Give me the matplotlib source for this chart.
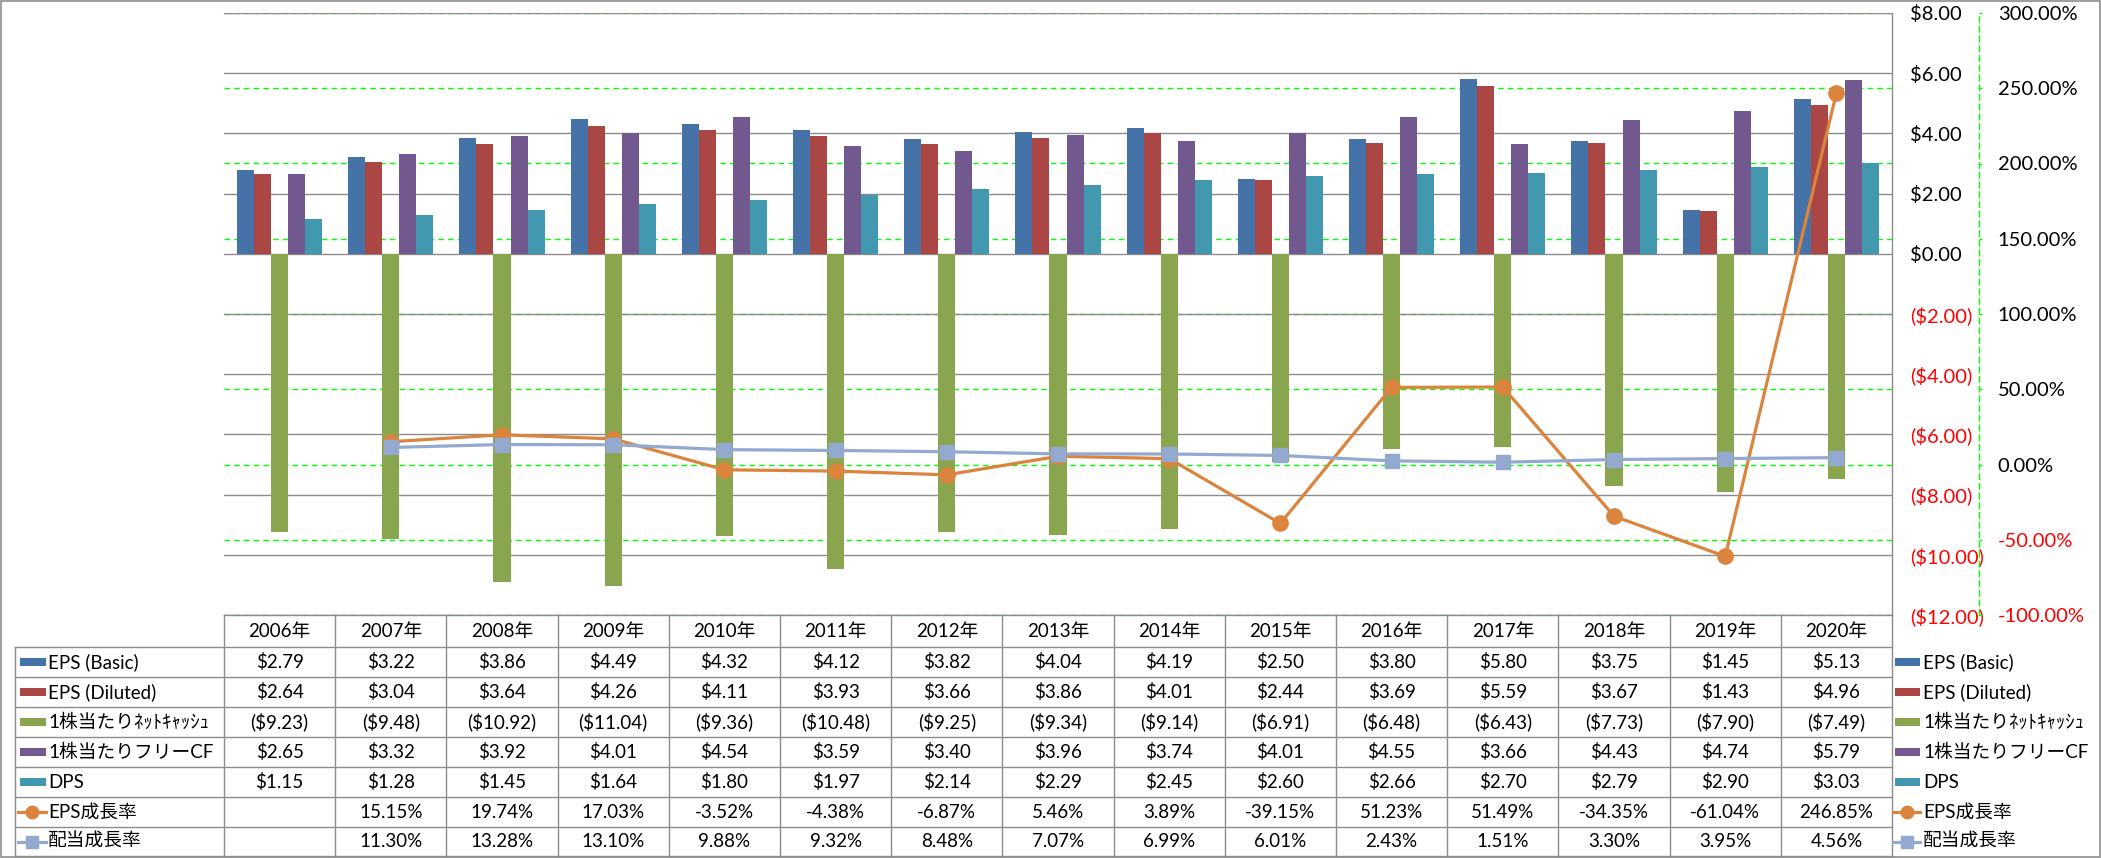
import matplotlib
matplotlib.use('Agg')
import matplotlib.pyplot as plt
import numpy as np
from matplotlib.patches import Rectangle

# ---------------- data ----------------
years = ["2006年", "2007年", "2008年", "2009年", "2010年", "2011年", "2012年", "2013年",
         "2014年", "2015年", "2016年", "2017年", "2018年", "2019年", "2020年"]
eps_basic = [2.79, 3.22, 3.86, 4.49, 4.32, 4.12, 3.82, 4.04, 4.19, 2.50, 3.80, 5.80, 3.75, 1.45, 5.13]
eps_diluted = [2.64, 3.04, 3.64, 4.26, 4.11, 3.93, 3.66, 3.86, 4.01, 2.44, 3.69, 5.59, 3.67, 1.43, 4.96]
net_cash = [-9.23, -9.48, -10.92, -11.04, -9.36, -10.48, -9.25, -9.34, -9.14, -6.91, -6.48, -6.43, -7.73, -7.90, -7.49]
free_cf = [2.65, 3.32, 3.92, 4.01, 4.54, 3.59, 3.40, 3.96, 3.74, 4.01, 4.55, 3.66, 4.43, 4.74, 5.79]
dps = [1.15, 1.28, 1.45, 1.64, 1.80, 1.97, 2.14, 2.29, 2.45, 2.60, 2.66, 2.70, 2.79, 2.90, 3.03]
eps_growth = [None, 15.15, 19.74, 17.03, -3.52, -4.38, -6.87, 5.46, 3.89, -39.15, 51.23, 51.49, -34.35, -61.04, 246.85]
div_growth = [None, 11.30, 13.28, 13.10, 9.88, 9.32, 8.48, 7.07, 6.99, 6.01, 2.43, 1.51, 3.30, 3.95, 4.56]

bar_names = ["EPS (Basic)", "EPS (Diluted)", "1株当たりﾈｯﾄｷｬｯｼｭ", "1株当たりフリーCF", "DPS"]
line_names = ["EPS成長率", "配当成長率"]
primary_ticks = list(range(-12, 9, 2))
secondary_ticks = list(range(-100, 301, 50))

# ---------------- style ----------------
bar_colors = ['#4572A7', '#AA4643', '#89A54E', '#71588F', '#4198AF']
c_orange = '#DB843D'
c_lblue = '#93A9CF'
grid_gray = '#8C8C8C'
green = '#00FF00'
FONT = ['Lato', 'Noto Sans CJK JP']
plt.rcParams['font.family'] = FONT
FS = 14.5   # axis tick labels
TFS = 13.5  # table text

W, H = 2101, 858
fig = plt.figure(figsize=(W / 100, H / 100), dpi=100)

L, R, T, B = 224, 1892, 13, 615
ax = fig.add_axes([L / W, 1 - B / H, (R - L) / W, (B - T) / H])
n = len(years)
x = np.arange(n)
bw = 0.153
for i, (vals, c) in enumerate(zip([eps_basic, eps_diluted, net_cash, free_cf, dps], bar_colors)):
    ax.bar(x + (i - 2) * bw, vals, bw, color=c, zorder=2, linewidth=0)

ax.set_xlim(-0.5, n - 0.5)
ax.set_ylim(primary_ticks[0], primary_ticks[-1])
ax.set_xticks([])
for s in ['top', 'left', 'bottom']:
    ax.spines[s].set_visible(False)
ax.spines['right'].set_color(grid_gray)
ax.spines['right'].set_linewidth(1.0)

# gridlines
p0, p1 = primary_ticks[0], primary_ticks[-1]
s0, s1 = secondary_ticks[0], secondary_ticks[-1]
for v in secondary_ticks:
    pv = p0 + (v - s0) * (p1 - p0) / (s1 - s0)
    ax.axhline(pv, color=green, ls=(0, (4, 3)), lw=1.0, zorder=0.5)
for t in primary_ticks:
    ax.axhline(t, color=grid_gray, lw=1.0, zorder=0.6)

# secondary axis
ax2 = ax.twinx()

# primary ticks on right (after twinx, which resets them to left)
ax.yaxis.set_ticks_position('right')
ax.set_yticks(primary_ticks,
              labels=[(f"${t:.2f}" if t >= 0 else f"(${-t:.2f})") for t in primary_ticks])
ax.tick_params(axis='y', which='both', left=False, labelleft=False,
               right=True, labelright=True, length=0, pad=13, labelsize=FS)
for lab, t in zip(ax.get_yticklabels(), primary_ticks):
    lab.set_color('black' if t >= 0 else '#FF0000')

ax2.set_ylim(s0, s1)
ax2.set_yticks(secondary_ticks, labels=[f"{t:.2f}%" for t in secondary_ticks])
for s in ['top', 'left', 'bottom']:
    ax2.spines[s].set_visible(False)
ax2.spines['right'].set_position(('outward', 62.6))
ax2.spines['right'].set_color(green)
ax2.spines['right'].set_linestyle((0, (4, 3)))
ax2.spines['right'].set_linewidth(1.0)
ax2.tick_params(axis='y', length=2.5, width=1, color=green, direction='out', pad=11,
                labelsize=FS)
for lab, t in zip(ax2.get_yticklabels(), secondary_ticks):
    lab.set_color('black' if t >= 0 else '#FF0000')

eg = np.array([np.nan if v is None else v for v in eps_growth])
dg = np.array([np.nan if v is None else v for v in div_growth])
ax2.plot(x, eg, color=c_orange, lw=2.3, marker='o', ms=11, zorder=3)
ax2.plot(x, dg, color=c_lblue, lw=2.3, marker='s', ms=10, zorder=4)

# ---------------- data table ----------------
tab = fig.add_axes([0, 0, 1, 1])
tab.set_xlim(0, W)
tab.set_ylim(H, 0)
tab.axis('off')

cw = (R - L) / n
col_edges = [L + i * cw for i in range(n + 1)]
row_edges = [615, 647, 677, 707, 737, 767, 797, 827, 856]
lab_left = 15
lc = dict(color=grid_gray, lw=1.0)

tab.plot([L, R], [row_edges[0], row_edges[0]], **lc)
for y in row_edges[1:]:
    tab.plot([lab_left, R], [y, y], **lc)
tab.plot([lab_left, lab_left], [row_edges[1], row_edges[-1]], **lc)
for xe in col_edges:
    tab.plot([xe, xe], [row_edges[0], row_edges[-1]], **lc)

def money(v):
    return f"${v:.2f}" if v >= 0 else f"(${-v:.2f})"

def pct(v):
    return "" if v is None else f"{v:.2f}%"

rows = [[money(v) for v in eps_basic], [money(v) for v in eps_diluted],
        [money(v) for v in net_cash], [money(v) for v in free_cf],
        [money(v) for v in dps], [pct(v) for v in eps_growth], [pct(v) for v in div_growth]]
row_names = bar_names + line_names

yc_h = (row_edges[0] + row_edges[1]) / 2
for j, yr in enumerate(years):
    tab.text((col_edges[j] + col_edges[j + 1]) / 2, yc_h, yr, ha='center', va='center', fontsize=TFS)

def key(xl, xr, yc, i):
    if i < 5:
        tab.add_patch(Rectangle((xl, yc - 4), xr - xl, 8, color=bar_colors[i], lw=0))
    else:
        c = c_orange if i == 5 else c_lblue
        m = 'o' if i == 5 else 's'
        tab.plot([xl - 2, xr], [yc, yc], color=c, lw=2.3)
        tab.plot([(xl + xr) / 2 - 1], [yc], marker=m, color=c, ms=9)

for i, (name, vals) in enumerate(zip(row_names, rows)):
    yc = (row_edges[i + 1] + row_edges[i + 2]) / 2
    key(20, 46, yc, i)
    tab.text(48, yc, name, ha='left', va='center', fontsize=TFS)
    for j, s in enumerate(vals):
        tab.text((col_edges[j] + col_edges[j + 1]) / 2, yc, s, ha='center', va='center', fontsize=TFS)
    key(1895, 1920, yc, i)
    tab.text(1923, yc, name, ha='left', va='center', fontsize=TFS)

# chart border
tab.add_patch(Rectangle((0.5, 0.5), W - 1.5, H - 1.5, fill=False, edgecolor=grid_gray, lw=1.2))

fig.savefig('out.png', dpi=100)
